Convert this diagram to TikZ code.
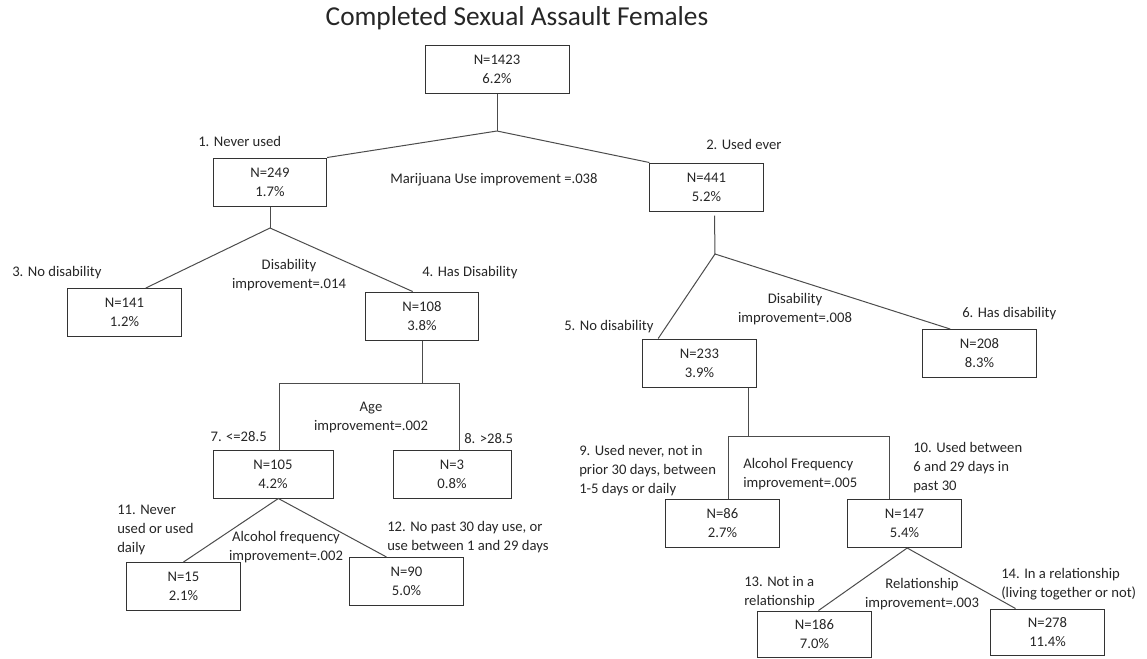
\documentclass[tikz,border=0pt]{standalone}
\usepackage{fontspec}
\setmainfont{Carlito}
\usepackage{tikz}

\begin{document}
\begin{tikzpicture}[x=0.75pt, y=-0.75pt, every node/.style={font=\fontsize{11}{14.25}\selectfont, text=black!85}, bx/.style={draw=black!80, line width=0.75pt, minimum width=85pt, minimum height=36pt, align=center, inner sep=2pt}, lb/.style={inner sep=0pt, align=left, anchor=west}, im/.style={inner sep=0pt, align=center}, ln/.style={draw=black!70, line width=0.75pt}]
	\useasboundingbox (0,0) rectangle (1147,658);
	\node[font=\fontsize{20.5}{24}\selectfont] (title) at (517,18) {Completed Sexual Assault Females};
	% boxes
	\node[bx, minimum width=108pt] (n1423) at (497,69) {N=1423\\6.2\%};
	\node[bx] (n249) at (270,182) {N=249\\1.7\%};
	\node[bx] (n441) at (706.5,187) {N=441\\5.2\%};
	\node[bx] (n141) at (124.5,312.5) {N=141\\1.2\%};
	\node[bx] (n108) at (422,316) {N=108\\3.8\%};
	\node[bx] (n233) at (699.5,363) {N=233\\3.9\%};
	\node[bx] (n208) at (979.5,353.5) {N=208\\8.3\%};
	\node[bx, minimum width=90pt] (n105) at (273,474) {N=105\\4.2\%};
	\node[bx, minimum width=88.5pt] (n3) at (452,474) {N=3\\0.8\%};
	\node[bx] (n15) at (183.5,586.5) {N=15\\2.1\%};
	\node[bx] (n90) at (406.5,581.5) {N=90\\5.0\%};
	\node[bx] (n86) at (722.5,523) {N=86\\2.7\%};
	\node[bx] (n147) at (904.5,523.5) {N=147\\5.4\%};
	\node[bx, minimum height=34.5pt] (n186) at (814.5,634) {N=186\\7.0\%};
	\node[bx, minimum height=34.5pt] (n278) at (1047.5,632) {N=278\\11.4\%};
	% split labels
	\node[lb] (l1) at (198,141) {1. Never used};
	\node[lb] (l2) at (706,144) {2. Used ever};
	\node[lb] (m1) at (390,180) {Marijuana Use improvement =.038};
	\node[lb] (l3) at (12,273) {3. No disability};
	\node[lb] (l4) at (422,273) {4. Has Disability};
	\node[im] (m2) at (289,275) {Disability\\improvement=.014};
	\node[lb] (l5) at (564,327) {5. No disability};
	\node[lb] (l6) at (962,314) {6. Has disability};
	\node[im] (m3) at (795,309) {Disability\\improvement=.008};
	\node[im] (m4) at (371,417) {Age\\improvement=.002};
	\node[lb, anchor=east] (l7) at (267,437) {7. <=28.5};
	\node[lb] (l8) at (464,439) {8. >28.5};
	\node[lb] (l9) at (579,471) {9. Used never, not in\\prior 30 days, between\\1-5 days or daily};
	\node[lb] (m5) at (743,474) {Alcohol Frequency\\improvement=.005};
	\node[lb] (l10) at (913,468) {10. Used between\\6 and 29 days in\\past 30};
	\node[lb] (l11) at (117,530) {11. Never\\used or used\\daily};
	\node[im] (m6) at (286,547) {Alcohol frequency\\improvement=.002};
	\node[lb] (l12) at (387,537) {12. No past 30 day use, or\\use between 1 and 29 days};
	\node[lb] (l13) at (744,592) {13. Not in a\\relationship};
	\node[im] (m7) at (922,594) {Relationship\\improvement=.003};
	\node[lb] (l14) at (1001,584) {14. In a relationship\\(living together or not)};
	% split points
	\coordinate (s1) at (497,131);
	\coordinate (s2) at (270,228);
	\coordinate (s3) at (715,254);
	\coordinate (a4) at (279,383);
	\coordinate (b4) at (459,383);
	\coordinate (a5) at (728,436);
	\coordinate (b5) at (889,436);
	% connectors
	\draw[ln] (n1423.south) -- (s1);
	\draw[ln] (n249.north east) -- (s1) -- (n441.north west);
	\draw[ln] (n249.south) -- (s2);
	\draw[ln] ([xshift=16pt]n141.north) -- (s2) -- ([xshift=-7pt]n108.north);
	\draw[ln] ([shift={(6pt,-3pt)}]n441.south) -- (s3);
	\draw[ln] ([xshift=-31pt]n233.north) -- (s3) -- ([xshift=-22pt]n208.north);
	\draw[ln] (n108.south) -- (n108.south |- a4);
	\draw[ln] (n105.north -| a4) |- (b4) -- (n3.north -| b4);
	\draw[ln] ([xshift=37pt]n233.south) -- ([xshift=37pt]n233.south |- a5);
	\draw[ln] (n86.north -| a5) |- (b5) -- (n147.north -| b5);
	\draw[ln] (n15.north) -- ([xshift=4pt]n105.south) -- ([xshift=-15pt]n90.north);
	\draw[ln] ([xshift=3pt]n186.north) -- ([xshift=2pt]n147.south) -- ([xshift=-24pt]n278.north);
\end{tikzpicture}
\end{document}
